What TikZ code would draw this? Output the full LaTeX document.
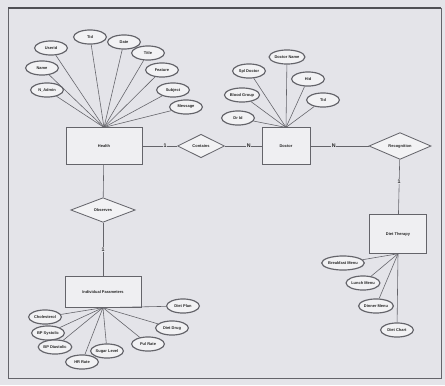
\documentclass[tikz,border=0pt]{standalone}
\usepackage{fontspec}
\setmainfont{Liberation Sans}
\usetikzlibrary{shapes.geometric}
\definecolor{paper}{RGB}{228,228,233}
\definecolor{ink}{RGB}{100,100,106}
\begin{document}
\begin{tikzpicture}[x=0.03cm,y=-0.03cm,
    every node/.style={font=\fontsize{3.4}{4}\selectfont\bfseries, text=black!85},
    entity/.style={draw=ink, line width=0.7pt, fill=paper!60!white},
    attr/.style={ellipse, draw=ink, line width=1pt, fill=paper!50!white, inner sep=0.2pt, minimum height=12pt, minimum width=28pt},
    rel/.style={diamond, draw=ink, line width=0.7pt, fill=paper!50!white, inner sep=0pt},
    link/.style={draw=ink, line width=0.5pt},
    card/.style={font=\fontsize{4.5}{4.5}\selectfont\bfseries, fill=paper, inner sep=0.3pt}]
  \fill[paper] (0,0) rectangle (445,385);
  \useasboundingbox (0,0) rectangle (445,385);
  \draw[ink, line width=0.7pt] (8,8) rectangle (441,378); % frame
  \draw[ink!80!black, line width=1.4pt] (8,8) -- (441,8);

  % entities
  \node[entity, minimum width=65pt, minimum height=31pt] (health) at (104,146) {Health};
  \node[entity, minimum width=41pt, minimum height=31pt] (doctor) at (286,146) {Doctor};
  \node[entity, minimum width=48pt, minimum height=33pt] (diet) at (398,234) {Diet Therapy};
  \node[entity, minimum width=65pt, minimum height=26pt] (indiv) at (103,292) {Individual Parameters};

  % relationships
  \node[rel, minimum width=40pt, minimum height=20pt] (contains) at (201,146) {Contains};
  \node[rel, minimum width=53pt, minimum height=19pt] (recog) at (400,146) {Recognition};
  \node[rel, minimum width=55pt, minimum height=21pt] (observe) at (103,210) {Observes};

  % attributes of health
  \node[attr] (h1) at (51,48) {Userid};
  \node[attr] (h2) at (90,37) {Tid};
  \node[attr] (h3) at (124,42) {Date};
  \node[attr] (h4) at (148,53) {Title};
  \node[attr] (h5) at (42,68) {Name};
  \node[attr] (h6) at (162,70) {Feature};
  \node[attr] (h7) at (47,90) {N\_Admin};
  \node[attr] (h8) at (173,90) {Subject};
  \node[attr] (h9) at (186,107) {Message};
  \foreach \a in {h1,h2,h3,h4,h5,h6,h7,h8,h9}
    \draw[link] (\a) -- (health.north);

  % attributes of doctor
  \node[attr] (d1) at (287,57) {Doctor Name};
  \node[attr] (d2) at (249,71) {Spl Doctor};
  \node[attr] (d3) at (308,79) {Hid};
  \node[attr] (d4) at (242,95) {Blood Group};
  \node[attr] (d5) at (323,100) {Tid};
  \node[attr] (d6) at (238,118) {Dr Id};
  \foreach \a in {d1,d2,d3,d4,d5,d6}
    \draw[link] (\a) -- (doctor.north);

  % attributes of diet therapy
  \node[attr] (t1) at (343,263) {Breakfast Menu};
  \node[attr] (t2) at (363,283) {Lunch Menu};
  \node[attr] (t3) at (376,306) {Dinner Menu};
  \node[attr] (t4) at (397,330) {Diet Chart};
  \foreach \a in {t1,t2,t3,t4}
    \draw[link] (\a) -- (diet.south);

  % attributes of individual parameters
  \node[attr] (p1) at (45,317) {Cholesterol};
  \node[attr] (p2) at (48,333) {BP Systolic};
  \node[attr] (p3) at (55,347) {BP Diastolic};
  \node[attr] (p4) at (82,362) {HR Rate};
  \node[attr] (p5) at (107,351) {Sugar Level};
  \node[attr] (p6) at (148,344) {Pul Rate};
  \node[attr] (p7) at (172,328) {Diet Drug};
  \node[attr] (p8) at (183,306) {Diet Plan};
  \foreach \a in {p1,p2,p3,p4,p5,p6,p7,p8}
    \draw[link] (\a) -- (indiv.south);

  % relationship links
  \draw[link] (health) -- (contains) node[card, pos=0.65] {1};
  \draw[link] (contains) -- (doctor) node[card, pos=0.65] {N};
  \draw[link] (doctor) -- (recog) node[card, pos=0.4] {N};
  \draw[link] (recog) -- (diet) node[card, pos=0.4] {1};
  \draw[link] (health) -- (observe);
  \draw[link] (observe) -- (indiv) node[card, pos=0.5] {1};
\end{tikzpicture}
\end{document}
